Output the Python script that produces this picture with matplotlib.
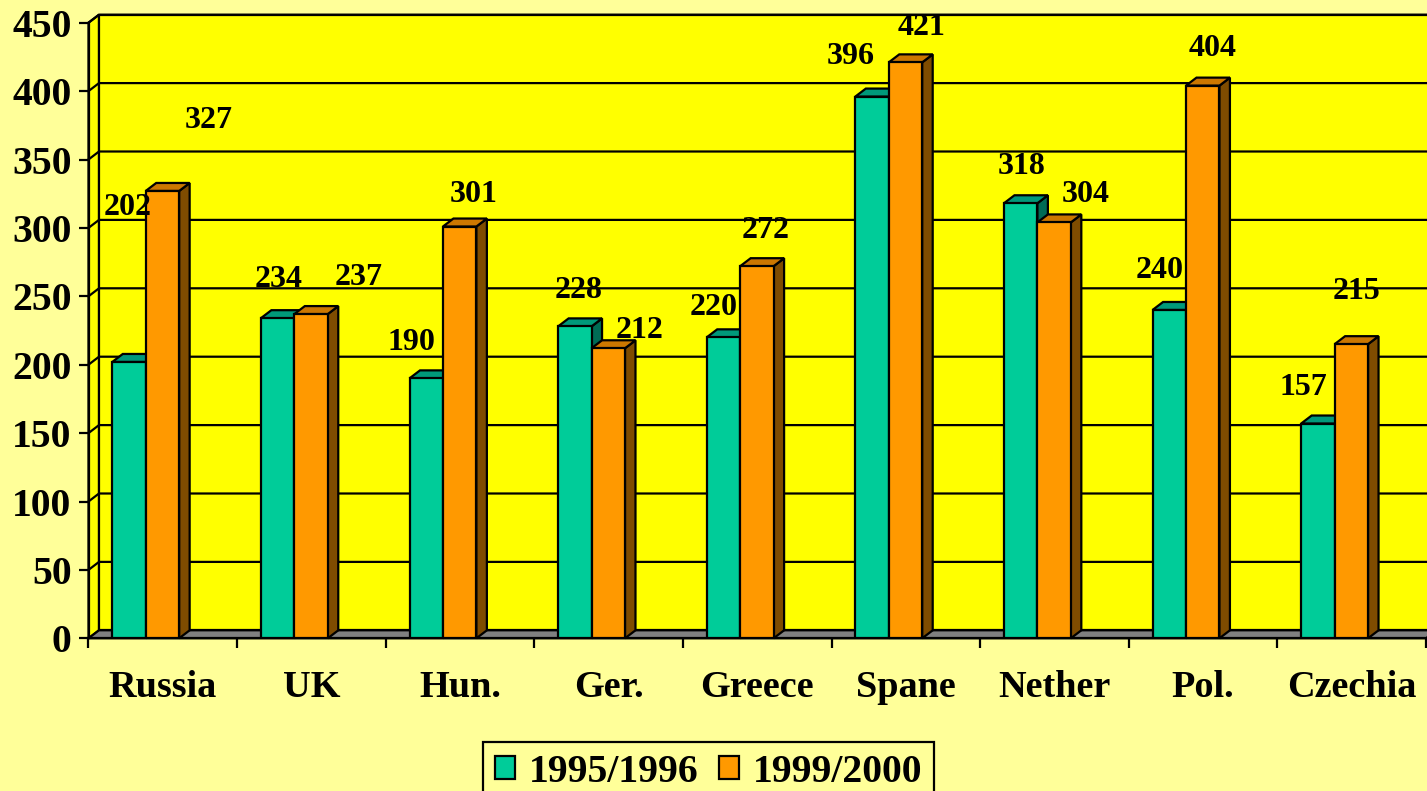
import matplotlib
matplotlib.use('Agg')
import matplotlib.pyplot as plt
from matplotlib.patches import Polygon, Patch
import numpy as np

# ---------------- data ----------------
categories = ['Russia', 'UK', 'Hun.', 'Ger.', 'Greece', 'Spane', 'Nether', 'Pol.', 'Czechia']
series_names = ['1995/1996', '1999/2000']
values_1995 = [202, 234, 190, 228, 220, 396, 318, 240, 157]
values_1999 = [327, 237, 301, 212, 272, 421, 304, 404, 215]
y_ticks = [0, 50, 100, 150, 200, 250, 300, 350, 400, 450]

# data-label placement (text anchors, as in the original layout)
lbl_1995_dx = [-0.240, -0.224, -0.327, -0.199, -0.296, -0.370, -0.218, -0.292, -0.325]
lbl_1995_y = [309.4, 256.7, 210.6, 248.7, 236.2, 419.8, 339.4, 263.3, 177.7]
lbl_1999_dx = [0.309, 0.315, 0.090, 0.205, 0.054, 0.105, 0.210, 0.062, 0.032]
lbl_1999_y = [373.0, 258.2, 318.9, 219.4, 292.5, 441.0, 318.9, 425.7, 247.9]

# ---------------- style ----------------
FIG_BG = '#FFFF99'
WALL = '#FFFF00'
FLOOR = '#808080'
TEAL = ('#00CC99', '#00997A', '#006B55')      # front, top, side
ORANGE = ('#FF9900', '#CC7700', '#7F4C00')
FONT = 'Liberation Serif'
LW = 1.6

plt.rcParams['font.family'] = [FONT, 'DejaVu Serif']
plt.rcParams['font.weight'] = 'bold'

fig = plt.figure(figsize=(14.27, 7.91), dpi=100, facecolor=FIG_BG)
W, H = 1427.0, 791.0
left_px, right_px, zero_px, top_px = 88.5, 1426.0, 638.3, 22.7
ax = fig.add_axes([left_px / W, (H - zero_px) / H, (right_px - left_px) / W, (zero_px - top_px) / H])
ax.set_facecolor('none')

n = len(categories)
x = np.arange(n)
ax.set_xlim(-0.5, n - 0.5)
ax.set_ylim(0, 450)

# 3D depth offsets in data units
px_per_x = (right_px - left_px) / n
px_per_y = (zero_px - top_px) / 450.0
DX = 10.5 / px_per_x
DY = 8.0 / px_per_y
x0, x1 = -0.5, n - 0.5
ymax = 450

# walls
side_wall = Polygon([(x0, 0), (x0 + DX, DY), (x0 + DX, ymax + DY), (x0, ymax)],
                    closed=True, facecolor=WALL, edgecolor='black', lw=LW, zorder=0.5, clip_on=False)
back_wall = Polygon([(x0 + DX, DY), (x1 + DX, DY), (x1 + DX, ymax + DY), (x0 + DX, ymax + DY)],
                    closed=True, facecolor=WALL, edgecolor='black', lw=LW, zorder=0.5, clip_on=False)
ax.add_patch(side_wall)
ax.add_patch(back_wall)

# gridlines
for g in y_ticks[1:]:
    ax.plot([x0, x0 + DX, x1 + DX], [g, g + DY, g + DY], color='black', lw=LW, zorder=1, clip_on=False)

# floor
floor = Polygon([(x0, 0), (x1, 0), (x1 + DX, DY), (x0 + DX, DY)],
                closed=True, facecolor=FLOOR, edgecolor='black', lw=LW, zorder=1.5, clip_on=False)
ax.add_patch(floor)

# bars
bar_w = 0.225
offsets = [-0.34, -0.115]
series = [values_1995, values_1999]
colors = [TEAL, ORANGE]
for s, (vals, off, col) in enumerate(zip(series, offsets, colors)):
    z = 2 + s
    lefts = x + off
    ax.bar(lefts, vals, width=bar_w, align='edge', color=col[0], edgecolor='black',
           linewidth=LW, zorder=z + 0.5)
    for xl, v in zip(lefts, vals):
        xr = xl + bar_w
        top = Polygon([(xl, v), (xr, v), (xr + DX, v + DY), (xl + DX, v + DY)], closed=True,
                      facecolor=col[1], edgecolor='black', lw=LW, zorder=z, clip_on=False)
        side = Polygon([(xr, 0), (xr + DX, DY), (xr + DX, v + DY), (xr, v)], closed=True,
                       facecolor=col[2], edgecolor='black', lw=LW, zorder=z, clip_on=False)
        ax.add_patch(side)
        ax.add_patch(top)

# data labels
for i in range(n):
    ax.text(x[i] + lbl_1995_dx[i], lbl_1995_y[i], str(values_1995[i]), ha='center', va='baseline',
            fontsize=23, fontweight='bold', zorder=6, clip_on=False)
    ax.text(x[i] + lbl_1999_dx[i], lbl_1999_y[i], str(values_1999[i]), ha='center', va='baseline',
            fontsize=23, fontweight='bold', zorder=6, clip_on=False)

# axes / ticks
for sp in ['top', 'right']:
    ax.spines[sp].set_visible(False)
for sp in ['left', 'bottom']:
    ax.spines[sp].set_linewidth(LW)
    ax.spines[sp].set_zorder(1.6)

ax.set_yticks(y_ticks)
ax.set_yticklabels([str(t) for t in y_ticks], fontsize=28.5, fontweight='bold')
ax.tick_params(axis='y', direction='out', length=7.2, width=LW, pad=5.0)

ax.set_xticks(x)
ax.set_xticklabels(categories, fontsize=27.5, fontweight='bold')
ax.set_xticks(np.arange(n + 1) - 0.5, minor=True)
ax.tick_params(axis='x', which='major', length=0, pad=42.5)
ax.tick_params(axis='x', which='minor', direction='out', length=7.2, width=LW)
for lab in ax.get_xticklabels():
    lab.set_va('baseline')

# legend
handles = [Patch(facecolor=TEAL[0], edgecolor='black', lw=LW),
           Patch(facecolor=ORANGE[0], edgecolor='black', lw=LW)]
leg = fig.legend(handles, series_names, loc='upper center', ncol=2,
                 bbox_to_anchor=(708.5 / W, 1 - 742.0 / H),
                 prop={'family': FONT, 'weight': 'bold', 'size': 28.5},
                 frameon=True, fancybox=False, edgecolor='black', facecolor=FIG_BG, framealpha=1,
                 handlelength=0.52, handleheight=0.52, handletextpad=0.35, columnspacing=0.5,
                 borderpad=0.3, borderaxespad=0)
leg.get_frame().set_linewidth(LW)

fig.savefig('out.png', dpi=100, facecolor=FIG_BG)
